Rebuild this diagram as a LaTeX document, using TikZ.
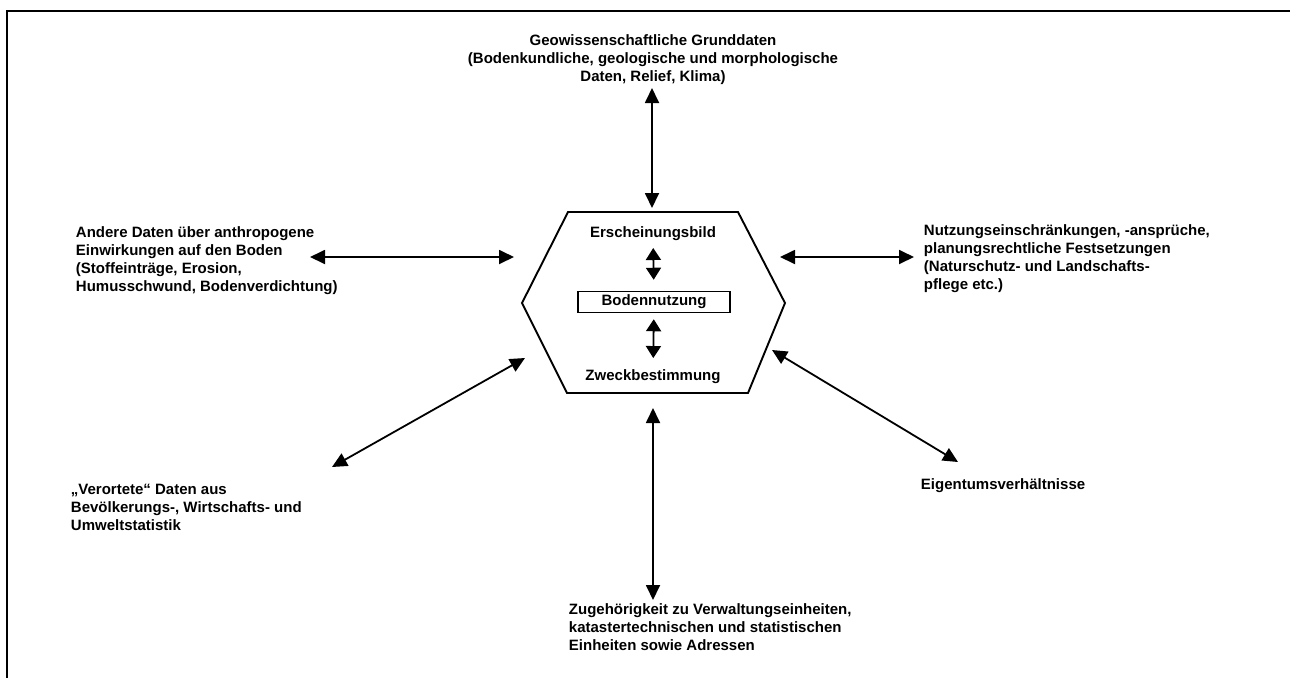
\documentclass[tikz,border=0pt]{standalone}
\usepackage{fontspec}
\setmainfont{Liberation Sans}
\usetikzlibrary{positioning,arrows.meta,calc}
\tikzset{>={Triangle[length=15pt,width=14pt]},
txt/.style={font=\bfseries\fontsize{15}{18}\selectfont,align=left,inner sep=0pt},
ctr/.style={txt,align=center},
ar/.style={<->,line width=1.8pt},
sar/.style={<->,line width=1.8pt,>={Triangle[length=12pt,width=15pt]},shorten >=11pt,shorten <=6pt},
box/.style={draw,line width=1.5pt,minimum width=152pt,minimum height=21pt,inner sep=0pt},
}
\begin{document}
\begin{tikzpicture}[x=1pt,y=-1pt,line width=1.9pt]
	\useasboundingbox (0,0) rectangle (1290,678);
	% frame
	\draw (7,678) -- (7,11) -- (1290,11);

	% centre
	\draw (568,212) -- (738,212) -- (785,303) -- (748,393) -- (567,393) -- (522,303) -- cycle;
	\node[txt] (ersch) at (653,234) {Erscheinungsbild};
	\node[txt,box] (boden) at (654,302) {Bodennutzung};
	\node[txt] (zweck) at (653,377) {Zweckbestimmung};
	\draw[sar] (ersch) -- (boden);
	\draw[sar] (boden) -- (zweck);

	% outer texts
	\node[ctr] (geo) at (653,60) {Geowissenschaftliche Grunddaten\\(Bodenkundliche, geologische und morphologische\\Daten, Relief, Klima)};
	\node[txt,anchor=west] (andere) at (75,261) {Andere Daten über anthropogene\\Einwirkungen auf den Boden\\(Stoffeinträge, Erosion,\\Humusschwund, Bodenverdichtung)};
	\node[txt,anchor=west] (nutz) at (923,259) {Nutzungseinschränkungen, -ansprüche,\\planungsrechtliche Festsetzungen\\(Naturschutz- und Landschafts-\\pflege etc.)};
	\node[txt,anchor=west] (verort) at (70,507) {„Verortete“ Daten aus\\Bevölkerungs-, Wirtschafts- und\\Umweltstatistik};
	\node[txt,anchor=west] (eigen) at (920,486) {Eigentumsverhältnisse};
	\node[txt,anchor=west] (zug) at (568,627) {Zugehörigkeit zu Verwaltungseinheiten,\\katastertechnischen und statistischen\\Einheiten sowie Adressen};

	% arrow ends
	\coordinate (g1) at (652,88);   \coordinate (g2) at (652,208);
	\coordinate (a1) at (310,257);  \coordinate (a2) at (514,257);
	\coordinate (n1) at (780,257);  \coordinate (n2) at (914,257);
	\coordinate (v1) at (332,467);  \coordinate (v2) at (525,358);
	\coordinate (e1) at (772,350);  \coordinate (e2) at (958,462);
	\coordinate (z1) at (653,408);  \coordinate (z2) at (653,600);

	\draw[ar] (g1) -- (g2);
	\draw[ar] (a1) -- (a2);
	\draw[ar] (n1) -- (n2);
	\draw[ar] (v1) -- (v2);
	\draw[ar] (e1) -- (e2);
	\draw[ar] (z1) -- (z2);
\end{tikzpicture}
\end{document}
